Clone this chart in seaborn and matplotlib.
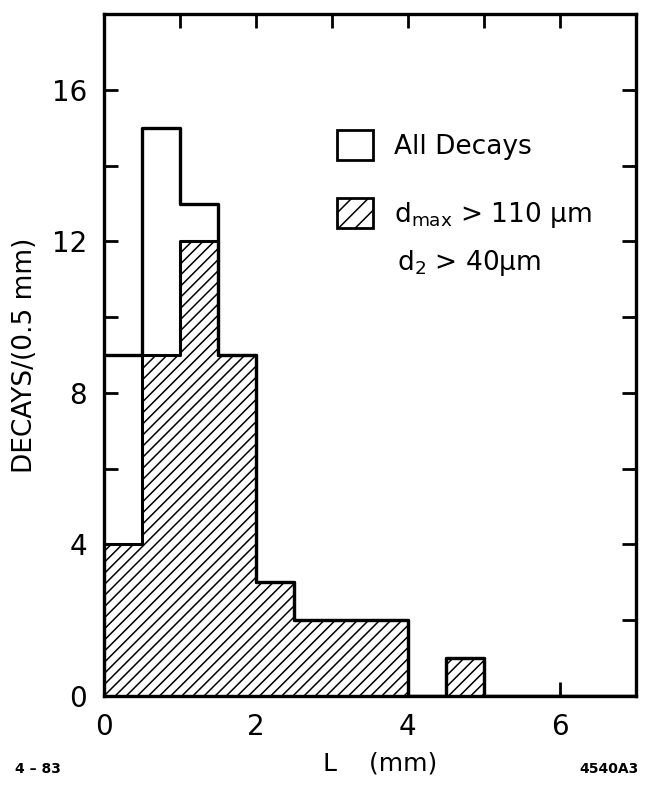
import numpy as np
import seaborn as sns
import matplotlib
matplotlib.use("Agg")
import matplotlib.pyplot as plt
from matplotlib.patches import Patch
from matplotlib.ticker import MultipleLocator

sns.set_style("ticks")
plt.rcParams["font.family"] = ["DejaVu Sans"]
plt.rcParams["hatch.linewidth"] = 1.1
plt.rcParams["text.color"] = "black"
plt.rcParams["axes.labelcolor"] = "black"
plt.rcParams["xtick.color"] = "black"
plt.rcParams["ytick.color"] = "black"

# decay length histogram, 0.5 mm bins
bin_edges = [0.0, 0.5, 1.0, 1.5, 2.0, 2.5, 3.0, 3.5, 4.0, 4.5, 5.0, 5.5, 6.0, 6.5, 7.0]
bin_centers = [0.25, 0.75, 1.25, 1.75, 2.25, 2.75, 3.25, 3.75, 4.25, 4.75, 5.25, 5.75, 6.25, 6.75]
all_decays = [9, 15, 13, 9, 3, 2, 2, 2, 0, 1, 0, 0, 0, 0]
cut_decays = [4, 9, 12, 9, 3, 2, 2, 2, 0, 1, 0, 0, 0, 0]

x_major = [0, 2, 4, 6]
y_major = [0, 4, 8, 12, 16]

fig = plt.figure(figsize=(6.45, 7.85), dpi=100)
ax = fig.add_axes([0.161, 0.1134, 0.825, 0.8686])

sns.histplot(x=bin_centers, weights=cut_decays, bins=bin_edges, element="step",
             fill=True, facecolor="white", edgecolor="black", hatch="///",
             linewidth=2.2, alpha=1, ax=ax)
sns.histplot(x=bin_centers, weights=all_decays, bins=bin_edges, element="step",
             fill=False, color="black", linewidth=2.4, ax=ax)

ax.set_xlim(0, 7)
ax.set_ylim(0, 18)
ax.set_xticks(x_major)
ax.set_yticks(y_major)
ax.xaxis.set_minor_locator(MultipleLocator(1))
ax.yaxis.set_minor_locator(MultipleLocator(2))
ax.tick_params(which="both", direction="in", top=True, right=True,
               length=10, width=2, color="black")
ax.tick_params(axis="both", which="major", labelsize=20, pad=12)
for s in ax.spines.values():
    s.set_linewidth(2.4)
    s.set_color("black")

ax.set_ylabel("DECAYS/(0.5 mm)", fontsize=19, labelpad=10)
ax.set_xlabel("L    (mm)", fontsize=18)
ax.xaxis.set_label_coords(0.52, -0.082)

handles = [Patch(facecolor="white", edgecolor="black", linewidth=2),
           Patch(facecolor="white", edgecolor="black", linewidth=2, hatch="//")]
labels = ["All Decays", r"$\mathregular{d_{max}}$ > 110 μm"]
ax.legend(handles, labels, loc="upper left", bbox_to_anchor=(0.438, 0.83),
          frameon=False, fontsize=19, handlelength=1.35, handleheight=1.35,
          labelspacing=1.45, handletextpad=0.8, borderpad=0, borderaxespad=0)
ax.text(0.551, 0.635, r"$\mathregular{d_2}$ > 40μm", transform=ax.transAxes,
        fontsize=19, va="center", ha="left")

fig.text(0.024, 0.012, "4 – 83", fontsize=10, fontweight="bold", va="bottom")
fig.text(0.99, 0.012, "4540A3", fontsize=10, fontweight="bold", va="bottom", ha="right")

fig.savefig("out.png", dpi=100)
